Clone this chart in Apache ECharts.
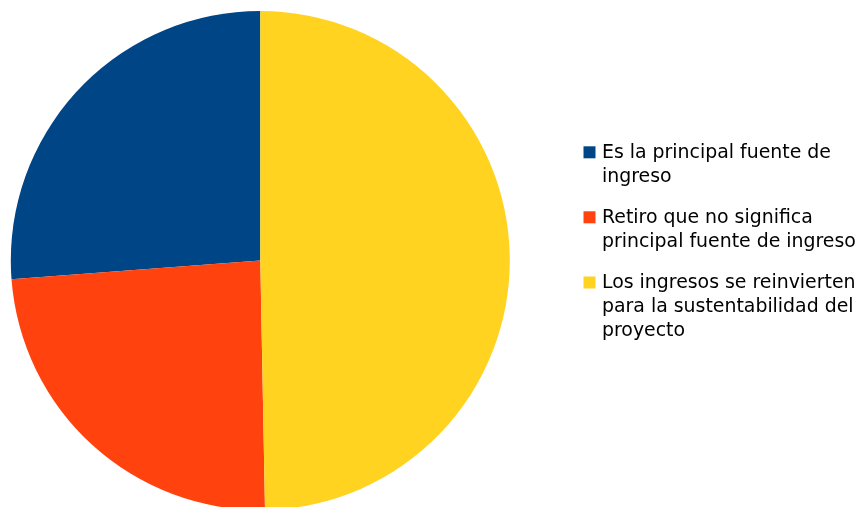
<!DOCTYPE html>
<html>
<head>
<meta charset="utf-8">
<script src="https://cdn.jsdelivr.net/npm/echarts@6/dist/echarts.min.js"></script>
<style>html,body{margin:0;padding:0;background:#fff}#c{width:863px;height:507px}</style>
</head>
<body>
<div id="c"></div>
<script>
const categories = [
  'Es la principal fuente de ingreso',
  'Retiro que no significa principal fuente de ingreso',
  'Los ingresos se reinvierten para la sustentabilidad del proyecto'
];
const legendLabels = [
  'Es la principal fuente de\ningreso',
  'Retiro que no significa\nprincipal fuente de ingreso',
  'Los ingresos se reinvierten\npara la sustentabilidad del\nproyecto'
];
const values = [26.2, 24.1, 49.7];
const colors = ['#004586', '#ff420e', '#ffd320'];

const chart = echarts.init(document.getElementById('c'), null, {renderer: 'canvas'});
const LH = 24;
const FS = 18.9;
const FONT = 'DejaVu Sans';
const iconCenters = [152.3, 217.3, 282.5];
const legends = categories.map((name, i) => {
  const parts = legendLabels[i].split('\n');
  const lines = parts.length;
  const pt = (lines - 1) * LH + 2;
  const h = lines * LH + pt;
  return {
    orient: 'vertical',
    left: 583.5,
    top: iconCenters[i] - h / 2,
    padding: 0,
    itemWidth: 12,
    itemHeight: 12,
    icon: 'rect',
    selectedMode: false,
    data: [name],
    formatter: () => '{sp|}\n' + parts.map(p => '{t|' + p + '}').join('\n'),
    textStyle: {
      fontFamily: FONT,
      fontSize: FS,
      color: '#000',
      rich: {
        sp: {height: pt, lineHeight: pt, fontSize: 1},
        t: {fontFamily: FONT, fontSize: FS, lineHeight: LH, color: '#000', padding: [0, 0, 0, 1.5]}
      }
    }
  };
});

chart.setOption({
  animation: false,
  color: colors,
  legend: legends,
  series: [{
    type: 'pie',
    center: [260.3, 260.5],
    radius: 249.5,
    startAngle: 90,
    clockwise: false,
    label: {show: false},
    labelLine: {show: false},
    emphasis: {scale: false},
    itemStyle: {borderWidth: 0},
    data: categories.map((n, i) => ({name: n, value: values[i]}))
  }]
});
</script>
</body>
</html>
